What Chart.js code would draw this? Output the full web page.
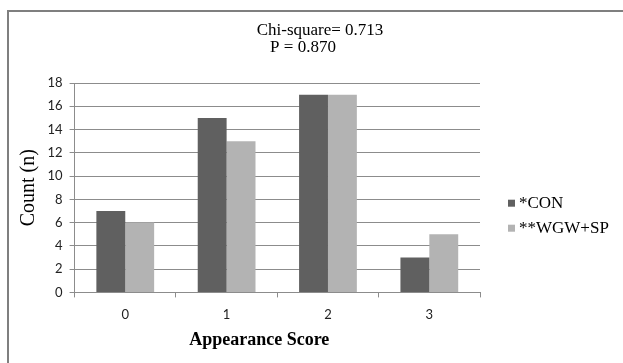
<!DOCTYPE html>
<html>
<head>
<meta charset="utf-8">
<script src="https://cdn.jsdelivr.net/npm/chart.js@4/dist/chart.umd.min.js"></script>
<style>
  html, body { margin: 0; padding: 0; background: #ffffff; }
  #wrap { width: 623px; height: 363px; position: relative; }
</style>
</head>
<body>
<div id="wrap"><canvas id="c" width="623" height="363"></canvas></div>
<script>
const categories = ['0', '1', '2', '3'];
const seriesNames = ['*CON', '**WGW+SP'];
const conValues = [7, 15, 17, 3];
const wgwValues = [6, 13, 17, 5];
const yTicks = [0, 2, 4, 6, 8, 10, 12, 14, 16, 18];
const titleLines = ['    Chi-square= 0.713', 'P = 0.870    '];
const xTitle = 'Appearance Score        ';
const yTitle = 'Count (n)';

const gridGray = '#8c8c8c';
const serif = '"Liberation Serif", "Times New Roman", serif';

const framePlugin = {
  id: 'frame',
  beforeDraw(chart) {
    const ctx = chart.ctx;
    ctx.save();
    ctx.fillStyle = '#ffffff';
    ctx.fillRect(0, 0, chart.width, chart.height);
    ctx.strokeStyle = '#7f7f7f';
    ctx.lineWidth = 2;
    ctx.beginPath();
    ctx.moveTo(8, chart.height);
    ctx.lineTo(8, 11);
    ctx.lineTo(chart.width, 11);
    ctx.stroke();
    ctx.restore();
  }
};

// Legend drawn from the chart's own dataset labels and colours
const sideLegend = {
  id: 'sideLegend',
  afterDraw(chart) {
    const ctx = chart.ctx;
    const area = chart.chartArea;
    const x = area.right + 28;
    const y0 = (area.top + area.bottom) / 2 + 16;
    ctx.save();
    ctx.font = '17px ' + serif;
    ctx.textBaseline = 'middle';
    ctx.textAlign = 'left';
    chart.data.datasets.forEach((ds, i) => {
      const y = y0 + i * 25;
      ctx.fillStyle = ds.backgroundColor;
      ctx.fillRect(x, y - 4, 7, 7);
      ctx.fillStyle = '#000000';
      ctx.fillText(ds.label, x + 11, y);
    });
    ctx.restore();
  }
};

new Chart(document.getElementById('c'), {
  type: 'bar',
  data: {
    labels: categories,
    datasets: [
      { label: seriesNames[0], data: conValues, backgroundColor: '#606060', borderWidth: 0 },
      { label: seriesNames[1], data: wgwValues, backgroundColor: '#b3b3b3', borderWidth: 0 }
    ]
  },
  options: {
    responsive: false,
    animation: false,
    devicePixelRatio: 1,
    datasets: { bar: { barPercentage: 1, categoryPercentage: 0.57 } },
    layout: { padding: { left: 12, right: 12, top: 0, bottom: 14 } },
    plugins: {
      tooltip: { enabled: false },
      legend: { display: false },
      title: {
        display: true,
        text: titleLines,
        color: '#000000',
        font: { family: serif, size: 17, weight: 'normal', lineHeight: 1 },
        padding: { top: 22.5, bottom: 26.5 }
      }
    },
    scales: {
      x: {
        offset: true,
        grid: { display: true, drawOnChartArea: false, drawTicks: true, tickLength: 5, color: gridGray, offset: true },
        border: { display: true, color: gridGray, width: 1 },
        ticks: { color: '#222222', padding: 10, font: { family: 'Lato, "Liberation Sans", sans-serif', size: 13 } },
        title: {
          display: true,
          text: xTitle,
          color: '#000000',
          font: { family: serif, size: 18, weight: 'bold', lineHeight: 1 },
          padding: { top: -2, bottom: 0 }
        }
      },
      y: {
        min: 0,
        max: 18,
        afterBuildTicks(scale) { scale.ticks = yTicks.map(v => ({ value: v })); },
        grid: { display: true, drawOnChartArea: true, drawTicks: true, tickLength: 5, color: gridGray },
        border: { display: true, color: gridGray, width: 1 },
        ticks: { color: '#222222', padding: 7, font: { family: 'Lato, "Liberation Sans", sans-serif', size: 13 } },
        title: {
          display: true,
          text: yTitle,
          color: '#000000',
          font: { family: serif, size: 20, weight: 'normal', lineHeight: 1.2 },
          padding: { top: 4.5, bottom: 0 }
        }
      },
      spacer: {
        type: 'linear',
        position: 'right',
        display: true,
        grid: { display: false, drawTicks: false },
        border: { display: false },
        ticks: { display: false },
        afterFit(scale) { scale.width = 131; }
      }
    }
  },
  plugins: [framePlugin, sideLegend]
});
</script>
</body>
</html>
